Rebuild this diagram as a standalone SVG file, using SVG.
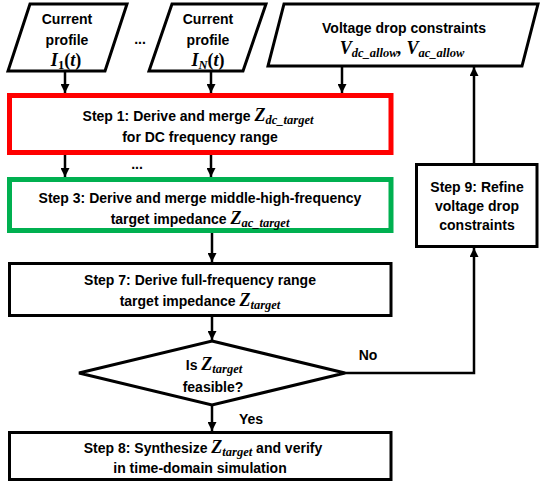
<svg xmlns="http://www.w3.org/2000/svg" width="541" height="485" viewBox="0 0 541 485">
  <defs>
    <marker id="arrow" viewBox="0 0 10 10" refX="10" refY="5" markerWidth="9" markerHeight="9" markerUnits="userSpaceOnUse" orient="auto">
      <path d="M0,0 L10,5 L0,10 z" fill="#000"/>
    </marker>
    <style>
      .box { fill: #fff; stroke: #000; stroke-width: 3; }
      .red { fill: #fff; stroke: #ff0000; stroke-width: 5; }
      .green { fill: #fff; stroke: #00b050; stroke-width: 5; }
      .t { font-family: "Liberation Sans", Arial, sans-serif; font-weight: bold; font-size: 14px; text-anchor: middle; fill: #000; }
      .m { font-family: "Liberation Serif", "Times New Roman", serif; font-style: italic; font-weight: bold; font-size: 18px; }
      .s { font-family: "Liberation Serif", "Times New Roman", serif; font-style: italic; font-weight: bold; font-size: 12.5px; }
      .u { font-style: normal; }
      .ca { fill: none; stroke: #000; stroke-width: 2.5; marker-end: url(#arrow); }
    </style>
  </defs>

  <!-- inputs -->
  <g id="profile1">
    <polygon class="box" points="30,4 127,4 105,71 8,71"/>
    <text class="t" x="67" y="24">Current</text>
    <text class="t" x="67" y="45">profile</text>
    <text class="t" x="66" y="66"><tspan class="m" font-size="19">I</tspan><tspan class="s u" font-size="13" dy="3">1</tspan><tspan class="m u" font-size="19" dy="-3">(</tspan><tspan class="m" font-size="19">t</tspan><tspan class="m u" font-size="19">)</tspan></text>
  </g>
  <text class="t" x="140" y="44" font-size="16">...</text>
  <g id="profileN">
    <polygon class="box" points="172,4 266,4 243,71 149,71"/>
    <text class="t" x="208" y="24">Current</text>
    <text class="t" x="208" y="45">profile</text>
    <text class="t" x="208" y="66"><tspan class="m" font-size="19">I</tspan><tspan class="s" font-size="13" dy="3">N</tspan><tspan class="m u" font-size="19" dy="-3">(</tspan><tspan class="m" font-size="19">t</tspan><tspan class="m u" font-size="19">)</tspan></text>
  </g>
  <g id="constraints">
    <polygon class="box" points="284,4 538,4 522,66 268,66"/>
    <text class="t" x="404" y="33" font-size="17.5">Voltage drop constraints</text>
    <text class="t" x="402" y="54"><tspan class="m">V</tspan><tspan class="s" dy="3">dc_allow</tspan><tspan class="m" dy="-3">, V</tspan><tspan class="s" dy="3">ac_allow</tspan></text>
  </g>

  <!-- process steps -->
  <g id="step1">
    <rect class="red" x="9.5" y="95.5" width="381.5" height="57"/>
    <text class="t" x="198" y="121">Step 1: Derive and merge <tspan class="m">Z</tspan><tspan class="s" dy="3">dc_target</tspan></text>
    <text class="t" x="200" y="142">for DC frequency range</text>
  </g>
  <text class="t" x="137" y="169" font-size="16">...</text>
  <g id="step3">
    <rect class="green" x="9.5" y="179.5" width="381.5" height="51"/>
    <text class="t" x="200" y="203">Step 3: Derive and merge middle-high-frequency</text>
    <text class="t" x="200" y="224">target impedance <tspan class="m">Z</tspan><tspan class="s" dy="3">ac_target</tspan></text>
  </g>
  <g id="step7">
    <rect class="box" x="9.5" y="263.5" width="381.5" height="52"/>
    <text class="t" x="200" y="285">Step 7:  Derive full-frequency range</text>
    <text class="t" x="200" y="306">target impedance <tspan class="m">Z</tspan><tspan class="s" dy="3">target</tspan></text>
  </g>
  <g id="decision">
    <polygon class="box" points="212,341 345,373 212,405 79,373"/>
    <text class="t" x="214" y="370">Is <tspan class="m">Z</tspan><tspan class="s" dy="3">target</tspan></text>
    <text class="t" x="213" y="392">feasible?</text>
  </g>
  <g id="step8">
    <rect class="box" x="9.5" y="432.5" width="381.5" height="47"/>
    <text class="t" x="203" y="453">Step 8: Synthesize <tspan class="m">Z</tspan><tspan class="s" dy="3">target</tspan><tspan dy="-3"> and verify</tspan></text>
    <text class="t" x="200" y="473">in time-domain simulation</text>
  </g>
  <g id="step9">
    <rect class="box" x="416.5" y="164.5" width="120.5" height="82"/>
    <text class="t" x="477" y="192">Step 9:  Refine</text>
    <text class="t" x="477" y="211">voltage drop</text>
    <text class="t" x="477" y="230">constraints</text>
  </g>

  <!-- connectors -->
  <g id="connectors">
    <line class="ca" x1="65" y1="72" x2="65" y2="93"/>
    <line class="ca" x1="211" y1="72" x2="211" y2="93"/>
    <line class="ca" x1="342" y1="67" x2="342" y2="93"/>
    <line class="ca" x1="65" y1="155" x2="65" y2="177"/>
    <line class="ca" x1="211" y1="155" x2="211" y2="177"/>
    <line class="ca" x1="212" y1="233" x2="212" y2="262"/>
    <line class="ca" x1="212" y1="317" x2="212" y2="340"/>
    <line class="ca" x1="212" y1="405" x2="212" y2="431"/>
    <polyline class="ca" points="345,373 474,373 474,248"/>
    <line class="ca" x1="474" y1="163" x2="474" y2="67"/>
    <text class="t" x="251" y="424" font-size="16">Yes</text>
    <text class="t" x="368" y="360" font-size="16">No</text>
  </g>
</svg>
